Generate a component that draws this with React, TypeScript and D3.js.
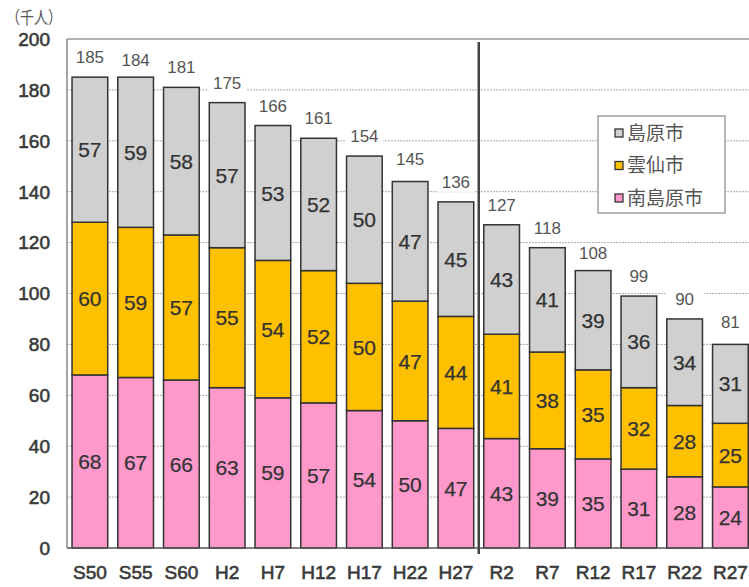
import React from "react";
import * as d3 from "d3";

const categories = ["S50", "S55", "S60", "H2", "H7", "H12", "H17", "H22", "H27", "R2", "R7", "R12", "R17", "R22", "R27"];
const minamishimabara = [68, 67, 66, 63, 59, 57, 54, 50, 47, 43, 39, 35, 31, 28, 24];
const unzen = [60, 59, 57, 55, 54, 52, 50, 47, 44, 41, 38, 35, 32, 28, 25];
const shimabara = [57, 59, 58, 57, 53, 52, 50, 47, 45, 43, 41, 39, 36, 34, 31];
const totals = [185, 184, 181, 175, 166, 161, 154, 145, 136, 127, 118, 108, 99, 90, 81];
const yTicks = [0, 20, 40, 60, 80, 100, 120, 140, 160, 180, 200];

const seriesNames = ["南島原市", "雲仙市", "島原市"];
const seriesColors = ["#ff99cc", "#ffc000", "#d0d0d0"];

const W = 749;
const H = 587;
const left = 67;
const top = 39;
const bottom = 548;
const right = left + 15 * 45.75;

export default function App() {
  const x = d3.scaleBand<string>().domain(categories).range([left, right]).paddingInner(0.22).paddingOuter(0.11);
  const y = d3.scaleLinear().domain([0, 200]).range([bottom, top]);

  const rows = categories.map((c, i) => ({
    cat: c,
    s0: minamishimabara[i],
    s1: unzen[i],
    s2: shimabara[i],
  }));
  const stack = d3.stack<any>().keys(["s0", "s1", "s2"]);
  const layers = stack(rows);

  const font = "'Liberation Sans', Arial, sans-serif";
  const jpFont = "'Noto Sans CJK JP', sans-serif";
  const bw = x.bandwidth();
  const dividerX = (x("H27")! + bw + x("R2")!) / 2;

  return (
    <svg width={W} height={H} style={{ position: "absolute", left: 0, top: 0, background: "#fff" }}>
      <rect x={0} y={0} width={W} height={H} fill="#fff" />
      {/* unit label */}
      <text x={6} y={18} dy="0.36em" fontFamily={jpFont} fontSize={17} fill="#555" textLength={56} lengthAdjust="spacingAndGlyphs">（千人）</text>

      {/* grid */}
      {yTicks.filter((t) => t > 0 && t < 200).map((t) => (
        <line key={t} x1={left} x2={W} y1={y(t)} y2={y(t)} stroke="#aaa" strokeWidth={1} strokeDasharray="2,1" />
      ))}
      {/* plot frame */}
      <line x1={left} x2={W} y1={top} y2={top} stroke="#999" strokeWidth={1.5} />
      <line x1={left} x2={left} y1={top} y2={bottom} stroke="#888" strokeWidth={1.5} />

      {/* y tick labels */}
      {yTicks.map((t) => (
        <text key={t} x={50} y={y(t)} dy="0.36em" textAnchor="end" fontFamily={font} fontSize={19} fill="#3a3a3a" stroke="#3a3a3a" strokeWidth={0.6}>
          {t}
        </text>
      ))}

      {/* total labels (white backing hides the grid) */}
      {categories.map((c, i) => {
        const cx = x(c)! + bw / 2;
        const ty = y(totals[i]) - 20;
        return (
          <g key={c}>
            <rect x={cx - 19} y={ty - 10} width={38} height={20} fill="#fff" />
            <text x={cx} y={ty} dy="0.36em" textAnchor="middle" fontFamily={font} fontSize={17} fill="#555">
              {totals[i]}
            </text>
          </g>
        );
      })}

      {/* bars */}
      {layers.map((layer, li) => (
        <g key={li}>
          {layer.map((d, i) => {
            const bx = x(categories[i])!;
            const y0 = y(d[0]);
            const y1 = y(d[1]);
            const val = d[1] - d[0];
            return (
              <g key={i}>
                <rect x={bx} y={y1} width={bw} height={y0 - y1} fill={seriesColors[li]} stroke="#333" strokeWidth={1.5} />
                <text x={bx + bw / 2} y={(y0 + y1) / 2} dy="0.36em" textAnchor="middle" fontFamily={font} fontSize={21} fill="#333" stroke="#333" strokeWidth={0.25}>
                  {val}
                </text>
              </g>
            );
          })}
        </g>
      ))}

      {/* x axis */}
      <line x1={left} x2={W} y1={bottom} y2={bottom} stroke="#555" strokeWidth={1.5} />
      {categories.map((c) => (
        <text key={c} x={x(c)! + bw / 2} y={572} dy="0.36em" textAnchor="middle" fontFamily={font} fontSize={19} fill="#3a3a3a" stroke="#3a3a3a" strokeWidth={0.6}>
          {c}
        </text>
      ))}

      {/* divider between estimates and projections */}
      <line x1={dividerX} x2={dividerX} y1={42} y2={554} stroke="#444" strokeWidth={2.5} />

      {/* legend */}
      <rect x={598} y={116} width={127} height={97} fill="#fff" stroke="#888" strokeWidth={1.2} />
      {[2, 1, 0].map((si, k) => {
        const cy = 133 + k * 32.5;
        return (
          <g key={si}>
            <rect x={615} y={cy - 4} width={8} height={8} fill={seriesColors[si]} stroke="#333" strokeWidth={1.3} />
            <text x={627} y={cy} dy="0.36em" fontFamily={jpFont} fontSize={19} fill="#555">
              {seriesNames[si]}
            </text>
          </g>
        );
      })}
    </svg>
  );
}
